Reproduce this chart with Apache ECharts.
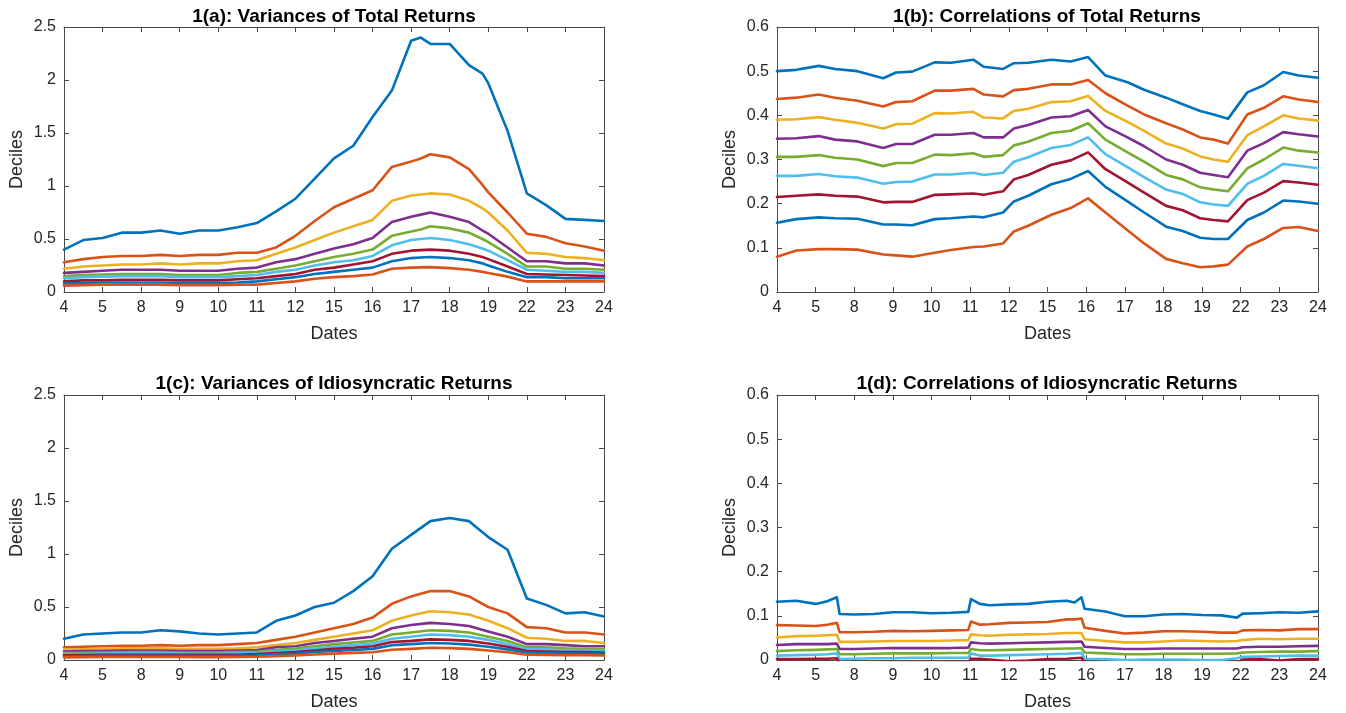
<!DOCTYPE html>
<html><head><meta charset="utf-8">
<script src="https://cdn.jsdelivr.net/npm/echarts/dist/echarts.min.js"></script>
<style>html,body{margin:0;padding:0;background:#fff}#c{width:1346px;height:713px}</style>
</head><body><div id="c"></div>
<script>
// x tick labels (dates), evenly spaced positions 0..14
const xTickLabels = ['4','5','8','9','10','11','12','15','16','17','18','19','22','23','24'];

// sample positions (in tick-index units)
const xA = [0,0.5,1,1.5,2,2.5,3,3.5,4,4.5,5,5.5,6,6.5,7,7.5,8,8.5,9,9.25,9.5,10,10.5,10.85,11,11.5,12,12.5,13,13.5,14];
const xB = [0,0.5,1.08,1.5,2.08,2.75,3.08,3.5,4.08,4.5,5.08,5.35,5.85,6.13,6.5,7.1,7.6,8.05,8.5,9.07,9.5,10.07,10.5,10.95,11.3,11.67,12.17,12.6,13.1,13.5,14];
const xC = [0,0.5,1,1.5,2,2.5,3,3.5,4,4.5,5,5.5,6,6.5,7,7.5,8,8.5,9,9.5,10,10.5,11,11.5,12,12.5,13,13.5,14];
const xD = [0,0.5,1,1.3,1.55,1.62,2,2.5,3,3.5,4,4.5,4.95,5.02,5.25,5.5,6,6.5,7,7.5,7.7,7.88,7.96,8.5,9,9.5,10,10.5,11,11.5,11.9,12.05,12.5,13,13.5,14];

// 1(a) Variances of Total Returns (deciles 90% .. 10%)
const a1 = [0.40,0.49,0.51,0.56,0.56,0.58,0.55,0.58,0.58,0.61,0.65,0.76,0.88,1.07,1.26,1.38,1.65,1.90,2.37,2.40,2.34,2.34,2.14,2.06,1.97,1.52,0.93,0.82,0.69,0.68,0.67];
const a2 = [0.28,0.31,0.33,0.34,0.34,0.35,0.34,0.35,0.35,0.37,0.37,0.42,0.53,0.67,0.80,0.88,0.96,1.18,1.23,1.26,1.30,1.27,1.16,1.01,0.94,0.75,0.55,0.52,0.46,0.43,0.39];
const a3 = [0.22,0.24,0.25,0.26,0.26,0.27,0.26,0.27,0.27,0.29,0.30,0.36,0.42,0.49,0.56,0.62,0.68,0.86,0.91,0.92,0.93,0.92,0.86,0.79,0.75,0.58,0.37,0.36,0.33,0.32,0.30];
const a4 = [0.18,0.19,0.20,0.21,0.21,0.21,0.20,0.20,0.20,0.22,0.23,0.28,0.31,0.36,0.41,0.45,0.51,0.66,0.71,0.73,0.75,0.71,0.66,0.58,0.55,0.42,0.29,0.29,0.27,0.27,0.25];
const a5 = [0.15,0.16,0.165,0.17,0.17,0.17,0.16,0.16,0.16,0.18,0.19,0.22,0.25,0.29,0.33,0.36,0.40,0.53,0.57,0.59,0.62,0.60,0.56,0.50,0.47,0.36,0.24,0.24,0.22,0.22,0.21];
const a6 = [0.13,0.14,0.145,0.15,0.15,0.15,0.14,0.14,0.14,0.15,0.16,0.19,0.21,0.25,0.28,0.30,0.34,0.44,0.49,0.50,0.51,0.49,0.45,0.41,0.39,0.30,0.21,0.20,0.19,0.19,0.18];
const a7 = [0.10,0.11,0.11,0.115,0.115,0.115,0.11,0.11,0.11,0.12,0.13,0.15,0.17,0.21,0.23,0.26,0.29,0.36,0.39,0.395,0.40,0.39,0.36,0.33,0.31,0.24,0.17,0.165,0.16,0.155,0.15];
const a8 = [0.08,0.085,0.09,0.09,0.09,0.09,0.085,0.085,0.085,0.09,0.10,0.12,0.14,0.17,0.19,0.21,0.23,0.29,0.32,0.325,0.33,0.32,0.30,0.27,0.25,0.19,0.14,0.14,0.13,0.13,0.13];
const a9 = [0.06,0.065,0.07,0.07,0.07,0.07,0.065,0.065,0.065,0.07,0.07,0.085,0.10,0.125,0.14,0.15,0.165,0.22,0.23,0.232,0.235,0.225,0.21,0.19,0.18,0.145,0.10,0.10,0.10,0.10,0.10];

// 1(b) Correlations of Total Returns
const b1 = [0.500,0.503,0.512,0.505,0.500,0.484,0.497,0.499,0.520,0.519,0.526,0.510,0.505,0.518,0.519,0.526,0.522,0.532,0.490,0.475,0.458,0.440,0.425,0.410,0.402,0.392,0.452,0.468,0.498,0.490,0.485];
const b2 = [0.437,0.440,0.447,0.440,0.433,0.420,0.430,0.432,0.456,0.456,0.460,0.447,0.443,0.457,0.460,0.470,0.470,0.480,0.450,0.422,0.402,0.382,0.368,0.350,0.345,0.336,0.402,0.417,0.443,0.436,0.430];
const b3 = [0.390,0.391,0.396,0.390,0.383,0.370,0.380,0.381,0.405,0.404,0.408,0.395,0.393,0.410,0.415,0.430,0.432,0.444,0.410,0.385,0.365,0.336,0.325,0.307,0.300,0.295,0.355,0.375,0.400,0.393,0.388];
const b4 = [0.347,0.348,0.353,0.345,0.341,0.326,0.335,0.335,0.356,0.356,0.360,0.350,0.350,0.370,0.378,0.395,0.398,0.412,0.375,0.350,0.330,0.300,0.288,0.270,0.265,0.260,0.320,0.337,0.362,0.357,0.352];
const b5 = [0.306,0.306,0.310,0.304,0.300,0.285,0.292,0.292,0.311,0.310,0.314,0.306,0.310,0.332,0.340,0.360,0.365,0.382,0.345,0.316,0.295,0.265,0.255,0.237,0.232,0.228,0.280,0.300,0.327,0.320,0.316];
const b6 = [0.263,0.263,0.267,0.262,0.259,0.245,0.249,0.250,0.266,0.266,0.270,0.265,0.270,0.295,0.305,0.326,0.333,0.350,0.312,0.283,0.260,0.232,0.222,0.203,0.198,0.195,0.245,0.263,0.290,0.286,0.280];
const b7 = [0.215,0.218,0.221,0.218,0.216,0.203,0.204,0.204,0.220,0.221,0.223,0.220,0.228,0.255,0.265,0.288,0.298,0.316,0.278,0.248,0.225,0.195,0.185,0.167,0.163,0.160,0.208,0.225,0.251,0.248,0.243];
const b8 = [0.157,0.165,0.169,0.167,0.166,0.153,0.153,0.151,0.165,0.167,0.171,0.169,0.180,0.205,0.218,0.244,0.256,0.274,0.238,0.205,0.180,0.148,0.138,0.123,0.120,0.120,0.163,0.180,0.207,0.205,0.200];
const b9 = [0.080,0.094,0.097,0.097,0.096,0.085,0.083,0.080,0.089,0.095,0.102,0.103,0.110,0.137,0.150,0.175,0.190,0.212,0.180,0.140,0.110,0.075,0.065,0.056,0.058,0.062,0.103,0.120,0.145,0.147,0.138];

// 1(c) Variances of Idiosyncratic Returns
const c1 = [0.20,0.24,0.25,0.26,0.26,0.28,0.27,0.25,0.24,0.25,0.26,0.37,0.42,0.50,0.54,0.65,0.79,1.05,1.18,1.31,1.34,1.31,1.16,1.04,0.58,0.52,0.44,0.45,0.41];
const c2 = [0.12,0.125,0.13,0.135,0.135,0.14,0.135,0.14,0.14,0.15,0.16,0.19,0.22,0.26,0.30,0.34,0.40,0.53,0.60,0.65,0.65,0.60,0.50,0.44,0.31,0.30,0.26,0.26,0.24];
const c3 = [0.10,0.10,0.105,0.11,0.11,0.11,0.105,0.105,0.105,0.11,0.12,0.14,0.16,0.19,0.22,0.25,0.28,0.37,0.42,0.46,0.45,0.43,0.37,0.30,0.21,0.20,0.18,0.18,0.16];
const c4 = [0.08,0.085,0.085,0.09,0.09,0.09,0.085,0.085,0.085,0.09,0.095,0.12,0.13,0.16,0.18,0.20,0.22,0.30,0.33,0.35,0.34,0.32,0.27,0.22,0.15,0.15,0.14,0.13,0.13];
const c5 = [0.065,0.068,0.07,0.072,0.075,0.075,0.07,0.07,0.07,0.075,0.08,0.095,0.11,0.13,0.15,0.165,0.18,0.24,0.26,0.28,0.275,0.26,0.22,0.18,0.12,0.12,0.11,0.105,0.10];
const c6 = [0.055,0.057,0.06,0.06,0.06,0.06,0.06,0.058,0.058,0.06,0.065,0.08,0.09,0.11,0.125,0.14,0.155,0.20,0.22,0.24,0.235,0.22,0.19,0.15,0.10,0.10,0.09,0.09,0.085];
const c7 = [0.045,0.047,0.05,0.05,0.05,0.05,0.05,0.048,0.048,0.05,0.055,0.065,0.075,0.09,0.105,0.115,0.13,0.17,0.18,0.195,0.19,0.18,0.155,0.125,0.085,0.08,0.075,0.075,0.07];
const c8 = [0.035,0.037,0.04,0.04,0.04,0.04,0.04,0.038,0.038,0.04,0.045,0.055,0.062,0.075,0.085,0.095,0.105,0.14,0.15,0.16,0.155,0.145,0.125,0.10,0.07,0.068,0.062,0.062,0.06];
const c9 = [0.025,0.027,0.028,0.028,0.028,0.028,0.028,0.027,0.027,0.028,0.03,0.037,0.043,0.052,0.06,0.067,0.073,0.097,0.105,0.115,0.112,0.105,0.09,0.073,0.05,0.048,0.045,0.045,0.043];

// 1(d) Correlations of Idiosyncratic Returns
const d1 = [0.132,0.134,0.127,0.133,0.142,0.104,0.103,0.104,0.108,0.108,0.106,0.107,0.109,0.138,0.127,0.124,0.126,0.127,0.132,0.134,0.130,0.142,0.116,0.110,0.099,0.099,0.103,0.104,0.102,0.101,0.096,0.105,0.106,0.108,0.107,0.110];
const d2 = [0.079,0.078,0.077,0.080,0.084,0.063,0.063,0.064,0.066,0.065,0.066,0.067,0.068,0.087,0.080,0.081,0.084,0.085,0.086,0.092,0.092,0.094,0.073,0.066,0.060,0.062,0.065,0.065,0.064,0.062,0.062,0.067,0.068,0.067,0.070,0.070];
const d3 = [0.051,0.054,0.055,0.056,0.057,0.041,0.041,0.042,0.043,0.043,0.043,0.044,0.045,0.058,0.056,0.055,0.057,0.058,0.059,0.061,0.061,0.061,0.047,0.043,0.040,0.040,0.042,0.044,0.043,0.042,0.043,0.045,0.048,0.047,0.048,0.048];
const d4 = [0.034,0.036,0.036,0.036,0.037,0.025,0.025,0.026,0.027,0.027,0.027,0.027,0.028,0.040,0.038,0.037,0.038,0.039,0.040,0.041,0.041,0.042,0.030,0.027,0.025,0.025,0.026,0.026,0.026,0.026,0.026,0.029,0.030,0.030,0.031,0.032];
const d5 = [0.020,0.022,0.023,0.024,0.025,0.013,0.013,0.014,0.015,0.015,0.015,0.016,0.016,0.025,0.022,0.022,0.023,0.024,0.025,0.026,0.026,0.027,0.017,0.015,0.013,0.013,0.014,0.014,0.014,0.014,0.015,0.017,0.018,0.019,0.019,0.020];
const d6 = [0.010,0.011,0.012,0.013,0.015,0.002,0.003,0.004,0.004,0.005,0.005,0.005,0.005,0.015,0.010,0.010,0.011,0.012,0.013,0.014,0.015,0.016,0.003,0.002,0.000,0.001,0.001,0.001,0.000,0.000,0.004,0.007,0.008,0.009,0.010,0.010];
const d7 = [0.002,0.002,0.003,0.003,0.004,-0.008,-0.008,-0.007,-0.006,-0.006,-0.006,-0.005,-0.005,0.003,0.003,0.001,-0.003,-0.001,0.002,0.003,0.004,0.005,-0.006,-0.007,-0.009,-0.009,-0.008,-0.008,-0.008,-0.007,-0.007,0.001,0.002,-0.001,0.002,0.002];
const d8 = [-0.012,-0.011,-0.011,-0.010,-0.009,-0.020,-0.020,-0.019,-0.018,-0.018,-0.018,-0.017,-0.017,-0.009,-0.010,-0.011,-0.011,-0.010,-0.009,-0.008,-0.008,-0.007,-0.017,-0.019,-0.021,-0.021,-0.020,-0.020,-0.020,-0.020,-0.019,-0.014,-0.013,-0.013,-0.012,-0.012];
const d9 = [-0.030,-0.029,-0.029,-0.028,-0.027,-0.038,-0.038,-0.037,-0.036,-0.036,-0.036,-0.035,-0.035,-0.027,-0.028,-0.029,-0.029,-0.028,-0.027,-0.026,-0.026,-0.025,-0.035,-0.037,-0.039,-0.039,-0.038,-0.038,-0.038,-0.037,-0.037,-0.032,-0.031,-0.031,-0.030,-0.030];

const titles = ['1(a): Variances of Total Returns','1(b): Correlations of Total Returns','1(c): Variances of Idiosyncratic Returns','1(d): Correlations of Idiosyncratic Returns'];
const xName = 'Dates';
const yName = 'Deciles';

const COLORS = ['#0072BD','#D95319','#EDB120','#7E2F8E','#77AC30','#4DBEEE','#A2142F'];
const FONT = '"Liberation Sans", Arial, Helvetica, sans-serif';
const TXT = '#262626';
const AXC = '#4a4a4a';

const panels = [
  {x: xA, ys: [a1,a2,a3,a4,a5,a6,a7,a8,a9], ymax: 2.5, yint: 0.5},
  {x: xB, ys: [b1,b2,b3,b4,b5,b6,b7,b8,b9], ymax: 0.6, yint: 0.1},
  {x: xC, ys: [c1,c2,c3,c4,c5,c6,c7,c8,c9], ymax: 2.5, yint: 0.5},
  {x: xD, ys: [d1,d2,d3,d4,d5,d6,d7,d8,d9], ymax: 0.6, yint: 0.1}
];
const gridRects = [
  {left: 64, top: 27, width: 540, height: 265},
  {left: 777, top: 27, width: 541, height: 265},
  {left: 64, top: 395, width: 540, height: 265},
  {left: 777, top: 395, width: 541, height: 265}
];
const titlePos = [[334, 7], [1047, 7], [334, 374], [1047, 374]];

const grid = [], xAxis = [], yAxis = [], series = [], title = [];
panels.forEach((p, gi) => {
  grid.push(Object.assign({show: false, outerBoundsMode: 'none', containLabel: false}, gridRects[gi]));
  title.push({text: titles[gi], left: titlePos[gi][0], top: titlePos[gi][1], textAlign: 'center', padding: 0,
    textStyle: {fontSize: 19, fontWeight: 'bold', color: '#000', fontFamily: FONT}});
  ['bottom','top'].forEach(pos => {
    xAxis.push({type: 'value', gridIndex: gi, position: pos, min: 0, max: 14, interval: 1,
      axisLine: {show: true, onZero: false, lineStyle: {color: AXC, width: 1}},
      axisTick: {show: true, inside: true, length: 5, lineStyle: {color: AXC, width: 1}},
      axisLabel: {show: pos === 'bottom', margin: 8, color: TXT, fontSize: 16, fontFamily: FONT,
        formatter: v => xTickLabels[Math.round(v)] || ''},
      splitLine: {show: false},
      name: pos === 'bottom' ? xName : '', nameLocation: 'middle', nameGap: 33,
      nameTextStyle: {fontSize: 18, color: TXT, fontFamily: FONT}
    });
  });
  ['left','right'].forEach(pos => {
    yAxis.push({type: 'value', gridIndex: gi, position: pos, min: 0, max: p.ymax, interval: p.yint,
      axisLine: {show: true, onZero: false, lineStyle: {color: AXC, width: 1}},
      axisTick: {show: true, inside: true, length: 5, lineStyle: {color: AXC, width: 1}},
      axisLabel: {show: pos === 'left', margin: 8, color: TXT, fontSize: 16, fontFamily: FONT},
      splitLine: {show: false},
      name: pos === 'left' ? yName : '', nameLocation: 'middle', nameGap: 38, nameRotate: 90,
      nameTextStyle: {fontSize: 18, color: TXT, fontFamily: FONT}
    });
  });
  p.ys.forEach((ys, si) => {
    const col = COLORS[si % 7];
    series.push({type: 'line', xAxisIndex: gi * 2, yAxisIndex: gi * 2,
      data: p.x.map((x, i) => [x, ys[i]]),
      symbol: 'none', showSymbol: false, clip: true, silent: true,
      lineStyle: {width: 2.6, color: col, join: 'round', cap: 'round'}, itemStyle: {color: col}});
  });
});

const chart = echarts.init(document.getElementById('c'), null, {renderer: 'canvas'});
chart.setOption({animation: false, backgroundColor: '#fff', title, grid, xAxis, yAxis, series});
</script>
</body></html>
